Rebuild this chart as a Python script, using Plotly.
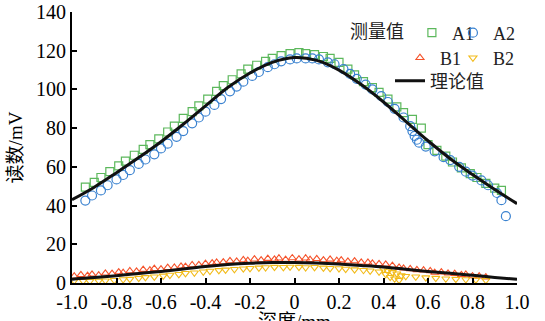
import plotly.graph_objects as go

# ---------------- data ----------------
theory_x = [-1.0, -0.9, -0.8, -0.7, -0.6, -0.5, -0.4, -0.3, -0.2, -0.1, 0.0,
            0.1, 0.2, 0.3, 0.4, 0.5, 0.6, 0.7, 0.8, 0.9, 1.0]
theory_A = [43, 49.5, 57, 64.8, 73, 82, 91.5, 101, 108.5, 114, 116.5,
            115, 110, 102.5, 93.5, 83.5, 73.5, 64.2, 56, 48.3, 41]
theory_B = [2.0, 2.8, 3.8, 4.9, 6.0, 7.2, 8.5, 9.5, 10.2, 10.6, 10.6,
            10.3, 9.8, 9.1, 8.3, 7.1, 6.0, 5.0, 4.0, 2.9, 1.9]

a1_x = [-0.94, -0.90, -0.87, -0.83, -0.79, -0.76, -0.72, -0.68, -0.65, -0.61,
        -0.57, -0.54, -0.50, -0.46, -0.43, -0.39, -0.35, -0.32, -0.28, -0.24,
        -0.21, -0.17, -0.13, -0.10, -0.06, -0.02, 0.02, 0.05, 0.09, 0.13,
        0.16, 0.20, 0.24, 0.27, 0.31, 0.35, 0.38, 0.42, 0.46, 0.49,
        0.53, 0.57, 0.60, 0.64, 0.68, 0.71, 0.75, 0.79, 0.82, 0.86, 0.90, 0.93]
a1_y = [49.5, 52, 54.5, 57.5, 60.5, 63, 66, 69, 71.5, 74.5,
        78, 81, 85, 88.5, 91.5, 95, 99, 102, 105, 108,
        110.5, 112.5, 114.5, 116, 117.5, 118.5, 119, 118.5, 118, 117,
        116, 114, 110.5, 107.5, 104, 101, 98.5, 95, 91, 88,
        84.5, 80, 71.5, 68.5, 65.5, 62.5, 59.5, 56.5, 54.5, 51.5, 49, 47.8]

a2_x = [-0.94, -0.91, -0.87, -0.84, -0.80, -0.77, -0.74, -0.70, -0.67, -0.63,
        -0.60, -0.57, -0.53, -0.50, -0.46, -0.43, -0.40, -0.36, -0.33, -0.29,
        -0.26, -0.23, -0.19, -0.16, -0.12, -0.09, -0.06, -0.02, 0.01, 0.05,
        0.08, 0.11, 0.15, 0.18, 0.22, 0.25, 0.28, 0.32, 0.35, 0.39,
        0.42, 0.45, 0.49, 0.52, 0.53, 0.54, 0.55, 0.56, 0.59, 0.63,
        0.67, 0.70, 0.74, 0.77, 0.80, 0.84, 0.87, 0.91, 0.93, 0.95]
a2_y = [42.6, 45.2, 47.8, 50.5, 53.5, 55.8, 58.3, 61.5, 63.8, 66.5,
        69.5, 72, 75.5, 78.5, 82.5, 85.5, 88.5, 92, 95, 99,
        101.5, 104, 107, 109, 111.5, 113, 114.5, 115.5, 116, 116,
        116, 115.5, 114, 113, 110.5, 108, 105.5, 102.5, 100, 96.5,
        93.5, 90, 85.5, 81, 78.5, 76, 74, 72.5, 70.5, 68,
        65, 63.5, 60, 57.5, 55.5, 53, 50.5, 46.5, 42.8, 34.5]

b1_x = [-0.99, -0.96, -0.93, -0.91, -0.88, -0.85, -0.82, -0.79, -0.77, -0.74,
        -0.71, -0.68, -0.65, -0.63, -0.60, -0.57, -0.54, -0.51, -0.49, -0.46,
        -0.43, -0.40, -0.37, -0.35, -0.32, -0.29, -0.26, -0.23, -0.21, -0.18,
        -0.15, -0.12, -0.09, -0.07, -0.04, -0.01, 0.02, 0.05, 0.07, 0.10,
        0.13, 0.16, 0.19, 0.21, 0.24, 0.27, 0.30, 0.33, 0.35, 0.38,
        0.41, 0.44, 0.47, 0.49, 0.52, 0.55, 0.58, 0.61, 0.63, 0.66,
        0.69, 0.72, 0.75, 0.77, 0.80, 0.83, 0.86]
b1_y = [3.5, 4.2, 3.8, 4.5, 4.0, 5.0, 4.8, 5.6, 5.3, 6.2,
        6.0, 6.9, 6.6, 7.4, 7.2, 7.9, 8.0, 8.6, 8.5, 9.3,
        9.4, 10.0, 10.3, 10.6, 10.8, 11.4, 11.2, 11.9, 11.5, 12.3,
        11.8, 12.6, 12.2, 12.8, 12.1, 12.9, 12.3, 12.8, 12.0, 12.5,
        11.8, 12.2, 11.5, 11.8, 11.2, 11.3, 10.7, 10.6, 10.1, 9.9,
        9.6, 9.0, 8.0, 7.6, 7.3, 6.8, 6.6, 6.2, 5.4, 5.6,
        5.0, 4.8, 4.2, 4.4, 3.6, 3.5, 3.0]

b2_x = [-0.99, -0.95, -0.92, -0.88, -0.85, -0.81, -0.77, -0.74, -0.70, -0.67,
        -0.63, -0.59, -0.56, -0.52, -0.49, -0.45, -0.41, -0.38, -0.34, -0.31,
        -0.27, -0.23, -0.20, -0.16, -0.13, -0.09, -0.05, -0.02, 0.02, 0.05,
        0.09, 0.13, 0.16, 0.20, 0.23, 0.27, 0.31, 0.34, 0.38, 0.40,
        0.41, 0.42, 0.43, 0.44, 0.45, 0.46, 0.47, 0.48, 0.50, 0.545,
        0.59, 0.635, 0.68, 0.725, 0.77, 0.815, 0.86]
b2_y = [1.2, 1.0, 0.9, 1.1, 1.2, 1.4, 1.8, 2.0, 2.5, 2.9,
        3.2, 3.7, 4.1, 4.5, 5.0, 5.3, 5.8, 6.2, 6.5, 6.8,
        7.1, 7.4, 7.6, 7.8, 8.0, 8.2, 8.1, 8.3, 8.2, 8.0,
        8.1, 7.8, 7.6, 7.5, 7.2, 6.9, 6.6, 6.3, 5.8, 7.0,
        4.5, 6.2, 3.0, 5.5, 2.2, 4.8, 1.5, 3.8, 3.5, 3.2,
        2.8, 2.5, 2.2, 2.0, 1.8, 1.6, 1.4]

x_tickvals = [-1.0, -0.8, -0.6, -0.4, -0.2, 0.0, 0.2, 0.4, 0.6, 0.8, 1.0]
x_ticktext = ["-1.0", "-0.8", "-0.6", "-0.4", "-0.2", "0", "0.2", "0.4", "0.6", "0.8", "1.0"]
y_tickvals = [0, 20, 40, 60, 80, 100, 120, 140]
x_title = "深度/mm"
y_title = "读数/mV"
legend_title = "测量值"

# ---------------- styles ----------------
GREEN = "#5cb85c"
BLUE = "#3a82d0"
RED = "#f5522a"
YELLOW = "#f2bb1a"
FONT = "Times New Roman, Liberation Serif, Noto Sans CJK SC, serif"

fig = go.Figure()
fig.add_trace(go.Scatter(x=a1_x, y=a1_y, mode="markers", name="A1", legend="legend",
                         marker=dict(symbol="square-open", size=8, color=GREEN, line=dict(width=1.2))))
fig.add_trace(go.Scatter(x=a2_x, y=a2_y, mode="markers", name="A2", legend="legend4",
                         marker=dict(symbol="circle-open", size=9, color=BLUE, line=dict(width=1.2))))
fig.add_trace(go.Scatter(x=b1_x, y=b1_y, mode="markers", name="B1", legend="legend2",
                         marker=dict(symbol="triangle-up-open", size=7, color=RED, line=dict(width=1.1))))
fig.add_trace(go.Scatter(x=b2_x, y=b2_y, mode="markers", name="B2", legend="legend5",
                         marker=dict(symbol="triangle-down-open", size=7, color=YELLOW, line=dict(width=1.1))))
fig.add_trace(go.Scatter(x=theory_x, y=theory_A, mode="lines", name="理论值", legend="legend3",
                         line=dict(color="#111111", width=3, shape="spline")))
fig.add_trace(go.Scatter(x=theory_x, y=theory_B, mode="lines", name="理论值", showlegend=False,
                         line=dict(color="#111111", width=3, shape="spline")))

legend_common = dict(orientation="h", xanchor="left", yanchor="middle",
                     bgcolor="rgba(0,0,0,0)", borderwidth=0,
                     font=dict(family=FONT, size=18, color="#222"),
                     itemwidth=30, tracegroupgap=0)

fig.update_layout(
    width=545, height=321, autosize=False,
    margin=dict(l=72, r=28, t=12, b=38),
    plot_bgcolor="white", paper_bgcolor="white",
    font=dict(family=FONT, size=19, color="black"),
    legend=dict(x=0.62, y=0.9225, title=dict(text=legend_title, side="left",
                font=dict(family=FONT, size=18, color="#222")), **legend_common),
    legend4=dict(x=0.856, y=0.9225, **legend_common),
    legend2=dict(x=0.737, y=0.830, **legend_common),
    legend5=dict(x=0.856, y=0.830, **legend_common),
    legend3=dict(x=0.7146, y=0.745, **legend_common),
    xaxis=dict(range=[-1, 1], tickvals=x_tickvals, ticktext=x_ticktext,
               ticks="inside", ticklen=5, tickwidth=1.5, tickcolor="black",
               showline=True, linewidth=2, linecolor="black",
               showgrid=False, zeroline=False, ticklabelstandoff=0,
               automargin=False,
               tickfont=dict(family=FONT, size=20)),
    yaxis=dict(range=[0, 140], tickvals=y_tickvals,
               ticks="inside", ticklen=5, tickwidth=1.5, tickcolor="black",
               showline=True, linewidth=2, linecolor="black",
               showgrid=False, zeroline=False, automargin=False,
               tickfont=dict(family=FONT, size=20),
               title=dict(text=y_title, standoff=8, font=dict(family=FONT, size=19))),
    annotations=[dict(text=x_title, xref="paper", yref="paper", x=0.5, y=-0.095,
                      xanchor="center", yanchor="top", showarrow=False,
                      font=dict(family=FONT, size=19, color="black"))],
)

post = ("document.body.style.margin='0';document.body.style.overflow='hidden';"
        "var gd=document.getElementById('{plot_id}');"
        "Plotly.relayout(gd,{width:545,height:321});")
fig.write_html("out.html", config={"responsive": False, "displayModeBar": False},
               post_script=post)
